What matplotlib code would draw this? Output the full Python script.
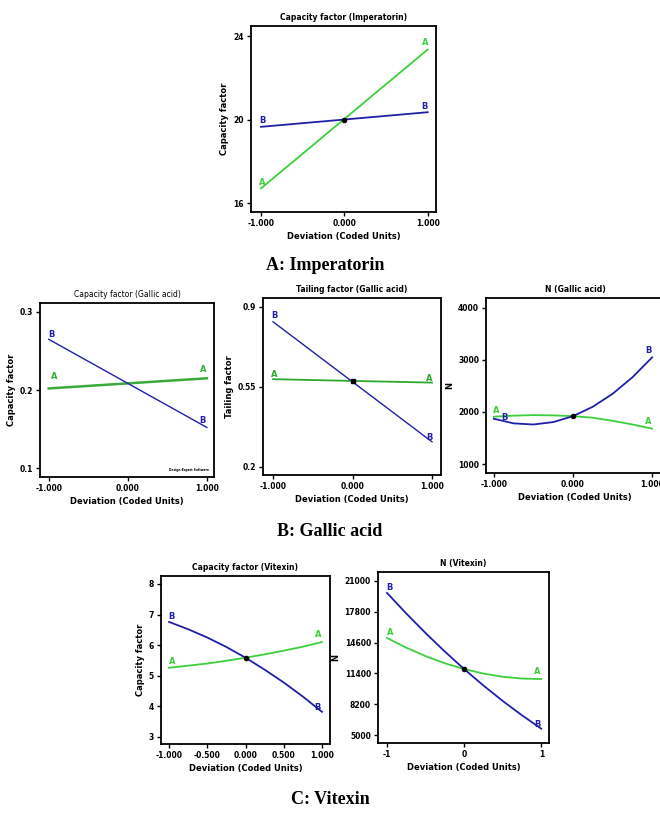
import numpy as np
import matplotlib.pyplot as plt

# coded deviation levels
x2 = [-1.0, 1.0]
x9 = [-1.0, -0.75, -0.5, -0.25, 0.0, 0.25, 0.5, 0.75, 1.0]

# Imperatorin capacity factor
imp_A = [16.7, 23.35]
imp_B = [19.65, 20.35]
imp_c = 20.0

# Gallic acid
ga_cf_A = [0.202, 0.215]
ga_cf_B = [0.265, 0.152]
ga_tf_A = [0.584, 0.569]
ga_tf_B = [0.835, 0.31]
ga_tf_c = 0.576
ga_n_A = [1910, 1930, 1940, 1935, 1920, 1890, 1830, 1760, 1680]
ga_n_B = [1870, 1781, 1760, 1806, 1920, 2101, 2350, 2666, 3050]
ga_n_c = 1920

# Vitexin
vx_cf_A = [5.26, 5.33, 5.40, 5.49, 5.59, 5.70, 5.82, 5.95, 6.10]
vx_cf_B = [6.76, 6.52, 6.25, 5.94, 5.59, 5.20, 4.78, 4.32, 3.82]
vx_cf_c = 5.59
vx_n_A = [15084, 14068, 13192, 12452, 11849, 11384, 11056, 10866, 10813]
vx_n_B = [19756, 17618, 15588, 13665, 11849, 10141, 8538, 7044, 5657]
vx_n_c = 11849

GREEN = '#3ccf3c'
BLUE = '#1f1fa8'
W, H = 660, 814

fig = plt.figure(figsize=(W/100, H/100), dpi=100)
plt.rcParams['font.family'] = ['DejaVu Sans']


def px_axes(l, t, r, b):
    return fig.add_axes([l/W, 1-b/H, (r-l)/W, (b-t)/H])


def style(ax, title, ylabel, xlim, ylim, yticks, yticklabels, xticks, xticklabels, bold=True):
    fw = 'bold' if bold else 'normal'
    ax.set_xlim(*xlim)
    ax.set_ylim(*ylim)
    ax.set_yticks(yticks)
    ax.set_yticklabels(yticklabels, fontsize=5.5, fontweight='bold')
    ax.set_xticks(xticks)
    ax.set_xticklabels(xticklabels, fontsize=5.5, fontweight='bold')
    ax.tick_params(length=3, width=1, pad=2)
    for s in ax.spines.values():
        s.set_linewidth(1.3)
    ax.set_title(title, fontsize=5.5, fontweight=fw, pad=4)
    ax.set_xlabel('Deviation (Coded Units)', fontsize=6, fontweight='bold', labelpad=3)
    ax.set_ylabel(ylabel, fontsize=6, fontweight='bold', labelpad=3)


def lab(ax, x, y, s, c, dx=0, dy=4):
    ax.annotate(s, (x, y), xytext=(dx, dy), textcoords='offset points',
                ha='center', va='bottom', fontsize=6, fontweight='bold', color=c)


# ---- A: Imperatorin
ax = px_axes(251, 26, 436, 212)
ax.plot(x2, imp_A, color=GREEN, lw=1.3)
ax.plot(x2, imp_B, color=BLUE, lw=1.3)
ax.plot([0], [imp_c], 'ko', ms=3)
lab(ax, -1, imp_A[0], 'A', GREEN, 1, 1)
lab(ax, 1, imp_A[-1], 'A', GREEN, -2, 2)
lab(ax, -1, imp_B[0], 'B', BLUE, 1, 1)
lab(ax, 1, imp_B[-1], 'B', BLUE, -2, 1)
style(ax, 'Capacity factor (Imperatorin)', 'Capacity factor', (-1.12, 1.10), (15.57, 24.48),
      [16, 20, 24], ['16', '20', '24'], [-1, 0, 1], ['-1.000', '0.000', '1.000'])

# ---- B: Gallic acid, capacity factor
ax = px_axes(40, 303, 214, 477)
ax.plot(x2, ga_cf_A, color='#3aaa3a', lw=1.8)
ax.plot(x2, ga_cf_B, color=BLUE, lw=1.0)
lab(ax, -0.93, ga_cf_A[0] + 0.003, 'A', '#3aaa3a')
lab(ax, 1, ga_cf_A[-1], 'A', '#3aaa3a', -3, 3)
lab(ax, -1, ga_cf_B[0], 'B', BLUE, 2, 0)
lab(ax, 1, ga_cf_B[-1], 'B', BLUE, -3, 2)
ax.text(0.97, 0.03, 'Design-Expert Software', transform=ax.transAxes, fontsize=2.2,
        fontweight='bold', ha='right', va='bottom')
style(ax, 'Capacity factor (Gallic acid)', 'Capacity factor', (-1.11, 1.09), (0.0885, 0.3115),
      [0.1, 0.2, 0.3], ['0.1', '0.2', '0.3'], [-1, 0, 1], ['-1.000', '0.000', '1.000'], bold=False)

# ---- B: Gallic acid, tailing factor
ax = px_axes(263, 298, 441, 475)
ax.plot(x2, ga_tf_A, color='#2ea82e', lw=1.3)
ax.plot(x2, ga_tf_B, color=BLUE, lw=1.0)
ax.plot([0], [ga_tf_c], 'ks', ms=3)
lab(ax, -1, ga_tf_A[0], 'A', '#2ea82e', 1, 0)
lab(ax, 1, ga_tf_A[-1], 'A', '#2ea82e', -2, 0)
lab(ax, -1, ga_tf_B[0], 'B', BLUE, 1, 1)
lab(ax, 1, ga_tf_B[-1], 'B', BLUE, -2, 0)
style(ax, 'Tailing factor (Gallic acid)', 'Tailing factor', (-1.126, 1.113), (0.165, 0.939),
      [0.2, 0.55, 0.9], ['0.2', '0.55', '0.9'], [-1, 0, 1], ['-1.000', '0.000', '1.000'])

# ---- B: Gallic acid, N
ax = px_axes(486, 298, 664, 473)
ax.plot(x9, ga_n_A, color=GREEN, lw=1.3)
ax.plot(x9, ga_n_B, color=BLUE, lw=1.3)
ax.plot([0], [ga_n_c], 'ko', ms=3)
lab(ax, -1, ga_n_A[0], 'A', GREEN, 2, 1)
lab(ax, 1, ga_n_A[-1], 'A', GREEN, -3, 2)
lab(ax, -0.9, ga_n_B[0], 'B', BLUE, 2, -2)
lab(ax, 1, ga_n_B[-1], 'B', BLUE, -3, 2)
style(ax, 'N (Gallic acid)', 'N', (-1.10, 1.15), (827, 4192),
      [1000, 2000, 3000, 4000], ['1000', '2000', '3000', '4000'], [-1, 0, 1], ['-1.000', '0.000', '1.000'])

# ---- C: Vitexin, capacity factor
ax = px_axes(161, 576, 330, 744)
ax.plot(x9, vx_cf_A, color=GREEN, lw=1.3)
ax.plot(x9, vx_cf_B, color=BLUE, lw=1.3)
ax.plot([0], [vx_cf_c], 'ko', ms=3)
lab(ax, -1, vx_cf_A[0], 'A', GREEN, 2, 1)
lab(ax, 1, vx_cf_A[-1], 'A', GREEN, -3, 2)
lab(ax, -1, vx_cf_B[0], 'B', BLUE, 2, 1)
lab(ax, 1, vx_cf_B[-1], 'B', BLUE, -3, 0)
style(ax, 'Capacity factor (Vitexin)', 'Capacity factor', (-1.105, 1.105), (2.77, 8.26),
      [3, 4, 5, 6, 7, 8], ['3', '4', '5', '6', '7', '8'], [-1, -0.5, 0, 0.5, 1],
      ['-1.000', '-0.500', '0.000', '0.500', '1.000'])

# ---- C: Vitexin, N
ax = px_axes(378, 572, 549, 743)
ax.plot(x9, vx_n_A, color=GREEN, lw=1.3)
ax.plot(x9, vx_n_B, color=BLUE, lw=1.3)
ax.plot([0], [vx_n_c], 'ko', ms=3)
lab(ax, -1, vx_n_A[0], 'A', GREEN, 2, 1)
lab(ax, 1, vx_n_A[-1], 'A', GREEN, -3, 2)
lab(ax, -1, vx_n_B[0], 'B', BLUE, 2, 1)
lab(ax, 1, vx_n_B[-1], 'B', BLUE, -3, 0)
style(ax, 'N (Vitexin)', 'N', (-1.117, 1.10), (4172, 21932),
      [5000, 8200, 11400, 14600, 17800, 21000], ['5000', '8200', '11400', '14600', '17800', '21000'],
      [-1, 0, 1], ['-1', '0', '1'])

# captions
cap = dict(fontsize=13, fontweight='bold', family='Liberation Serif', ha='center', va='center')
fig.text(325/W, 1-265/H, 'A: Imperatorin', **cap)
fig.text(330/W, 1-531/H, 'B: Gallic acid', **cap)
fig.text(330/W, 1-800/H, 'C: Vitexin', **cap)

fig.savefig('out.png', dpi=100, facecolor='white')
